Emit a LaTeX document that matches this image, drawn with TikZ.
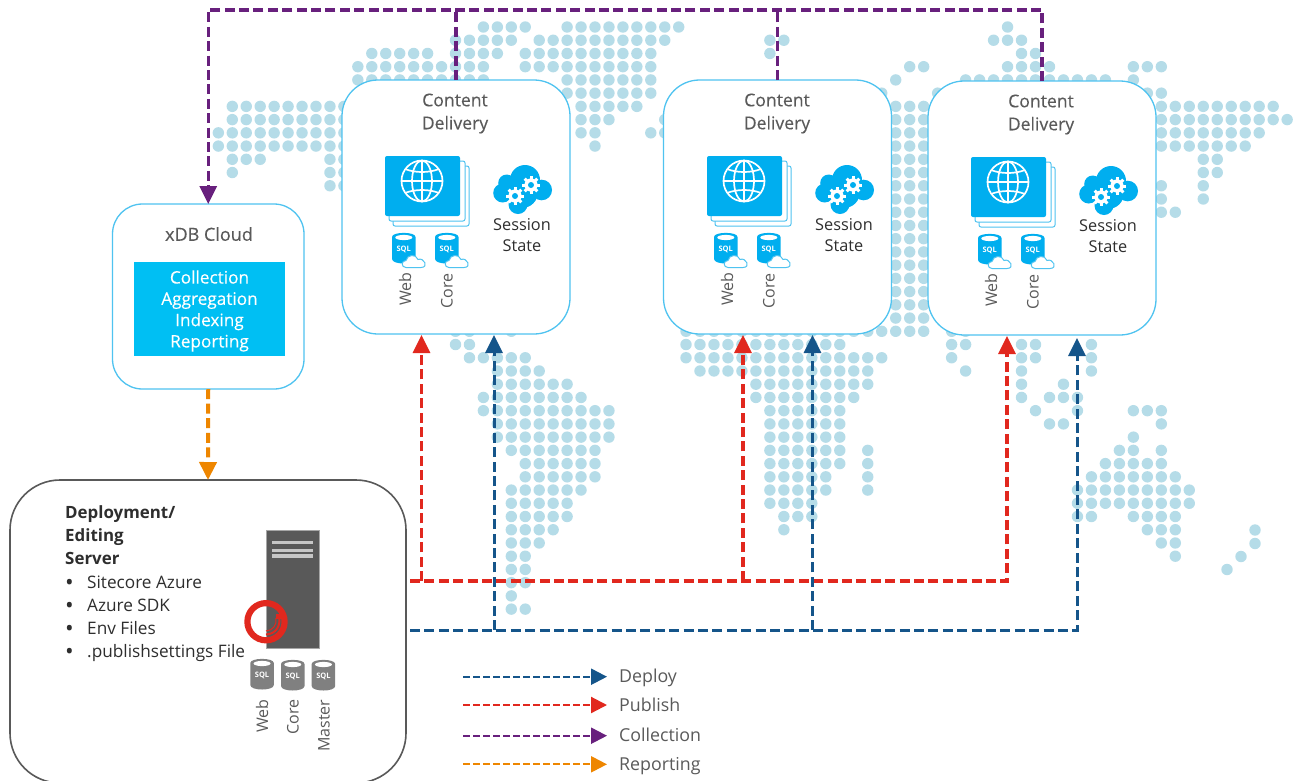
\documentclass[tikz,border=0pt]{standalone}
\usepackage{fontspec}
\setmainfont{Open Sans}
\newfontfamily\semif[FakeBold=0.25]{Open Sans}
\usetikzlibrary{arrows.meta}
\definecolor{dotc}{HTML}{B5DCE8}
\definecolor{boxb}{HTML}{4FC3F0}
\definecolor{cyanb}{HTML}{00AEEF}
\definecolor{cyanc}{HTML}{00BFF3}
\definecolor{dpl}{HTML}{15558A}
\definecolor{pub}{HTML}{E1281E}
\definecolor{col}{HTML}{68207D}
\definecolor{rep}{HTML}{EE8600}
\definecolor{txg}{HTML}{5A5A5A}
\definecolor{txd}{HTML}{2E2E2E}
\definecolor{srv}{HTML}{595959}
\definecolor{sqlg}{HTML}{808080}
\tikzset{
  x=1pt,y=-1pt,
  cdbox/.style={draw=boxb,line width=1.3pt,fill=white,rounded corners=36pt,minimum width=228pt,minimum height=254pt,anchor=north west,inner sep=0pt,outer sep=0pt},
  xdbbox/.style={draw=boxb,line width=1.3pt,fill=white,rounded corners=30pt,minimum width=191.5pt,minimum height=185pt,anchor=north west,inner sep=0pt,outer sep=0pt},
  depbox/.style={draw=srv,line width=1.6pt,fill=white,rounded corners=50pt,minimum width=396pt,minimum height=303pt,anchor=north west,inner sep=0pt,outer sep=0pt},
  link/.style={line width=3.3pt,dash pattern=on 10pt off 4.4pt,-{Triangle[width=17pt,length=18pt]}},
  bar/.style={line width=3.3pt,dash pattern=on 10pt off 4.4pt},
  legline/.style={line width=2.2pt,dash pattern=on 7pt off 3pt,-{Triangle[width=16pt,length=16pt]}},
  title/.style={text=txg,font=\semif\fontsize{17.6}{23}\selectfont,align=center,inner sep=0pt},
  body/.style={text=txd,font=\fontsize{16.3}{20.5}\selectfont,align=center,inner sep=0pt},
  rotlab/.style={text=txg,font=\fontsize{16}{18}\selectfont,rotate=90,inner sep=0pt},
  leglab/.style={text=txg,font=\fontsize{17.8}{20}\selectfont,anchor=base west,inner sep=0pt},
  deplab/.style={text=txd,font=\fontsize{17.2}{20}\selectfont,anchor=base west,inner sep=0pt},
  dephead/.style={text=txd,font=\fontsize{16.9}{23}\selectfont\bfseries,anchor=base west,inner sep=0pt},
  sqllab/.style={text=white,font=\fontsize{7.5}{8}\selectfont\bfseries,inner sep=0pt},
}
\newcommand{\sqlcyl}[4]{%
  \begin{scope}[shift={(#2,#3)}]
    \fill[#4] (0,4) -- (0,26) .. controls (0,32) and (23.5,32) .. (23.5,26) -- (23.5,4) .. controls (23.5,-1.5) and (0,-1.5) .. (0,4) -- cycle;
    \fill[white] (11.75,4.5) ellipse [x radius=8.5,y radius=2.6];
    \node[sqllab] (#1) at (11.75,16) {SQL};
  \end{scope}}
\newcommand{\smcloud}[2]{%
  \begin{scope}[shift={(#1,#2)}]
    \path[fill=white,draw=boxb,line width=1pt] (4,13.5) .. controls (-1,13.5) and (-1,6.5) .. (4,6.5) .. controls (5,0.5) and (14,-0.5) .. (16,5.5) .. controls (22,3) and (27,13.5) .. (19,13.5) -- cycle;
  \end{scope}}
\newcommand{\gearmark}[2]{%
  \fill[white] (#1,#2) circle (6.6);
  \foreach \a in {0,45,...,315}{\draw[white,line width=3pt] ([shift={(\a:5)}]#1,#2) -- ([shift={(\a:9)}]#1,#2);}
  \fill[cyanb] (#1,#2) circle (3);}
\begin{document}
\begin{tikzpicture}
\useasboundingbox (0,0) rectangle (1300,780);
\fill[white] (0,0) rectangle (1300,780);
\clip (0,0) rectangle (1300,780);
% ---- dotted world map
\foreach \r/\a/\b in {0/18/21,0/24/32,1/16/20,1/22/31,2/10/14,2/16/19,2/21/30,3/9/18,3/21/30,4/9/18,4/24/30,5/24/30,6/0/8,6/25/29,7/0/8,7/25/27,7/31/31,8/-1/8,8/25/26,8/30/31,9/-1/8,9/26/26,10/0/2,10/7/8,11/0/0,11/7/8,12/7/8,
23/16/17,23/20/20,24/16/17,25/17/21,26/19/22,27/19/24,28/18/25,29/18/27,30/19/27,31/19/27,32/20/26,33/21/26,34/21/26,35/20/25,36/20/24,37/20/24,38/20/23,39/20/22,40/20/21,41/20/21,42/20/21,43/20/20,44/20/21}{
  \foreach \c in {\a,...,\b}{\fill[dotc] ({232.3+13.95*\c},{27+13.23*\r}) circle (5.7);}
}
\foreach \r/\a/\b in {0/23/23,1/6/7,1/22/24,2/6/6,2/24/25,3/16/17,3/23/26,3/32/34,4/15/15,4/20/30,4/32/32,5/14/14,5/18/18,5/33/34,6/15/17,6/34/42,7/15/17,7/34/43,8/15/17,8/34/41,9/15/17,9/34/40,10/15/17,10/37/38,11/15/17,11/37/38,12/15/17,12/34/34,12/37/37,13/15/17,13/34/34,13/37/37,14/15/17,14/34/35,15/15/17,16/15/17,17/15/17,18/15/17,19/15/17,20/15/17,21/15/17,22/15/17,23/0/17,23/19/20,
24/0/11,24/19/20,24/24/25,24/29/29,25/0/14,25/19/19,25/24/25,25/29/29,26/1/13,26/20/20,26/24/24,26/29/29,27/5/13,27/24/24,27/27/27,28/5/12,28/24/24,28/26/28,29/6/11,29/25/25,29/28/28,29/32/34,30/6/11,30/26/27,30/34/34,31/6/11,31/32/32,32/6/11,32/13/13,32/31/32,32/34/34,33/6/11,33/13/13,33/30/34,34/6/10,34/13/13,34/29/35,35/6/10,35/13/13,35/28/36,36/6/9,36/28/36,37/7/9,37/28/29,37/32/35,38/7/7,38/33/35,39/34/35,40/35/35}{
  \foreach \c in {\a,...,\b}{\fill[dotc] ({686+13.98*\c},{27+13.23*\r}) circle (5.7);}
}
\foreach \p/\q in {1255/530,1255/543.5,1241/556.5,1227/569.5}{\fill[dotc] (\p,\q) circle (5.7);}
% ---- containers
\node[cdbox] (cd1) at (342,80) {};
\node[cdbox] (cd2) at (663.5,80) {};
\node[cdbox] (cd3) at (928,81) {};
\node[xdbbox] (xdb) at (112.5,204) {};
\node[depbox] (dep) at (10,480) {};
% ---- content delivery contents
\foreach \n/\dx/\dy in {1/0/0,2/322/0,3/586/1}{
  \begin{scope}[shift={(\dx,\dy)}]
    \node[title] (ttl\n) at (455,113.5) {Content\\Delivery};
    \draw[boxb,line width=1pt,fill=white,rounded corners=2pt] (393,166) rectangle (469,226);
    \draw[boxb,line width=1pt,fill=white,rounded corners=2pt] (389,161) rectangle (465,221);
    \fill[cyanb,rounded corners=2pt] (385,156) rectangle (460,216);
    \begin{scope}[white,line width=1.7pt]
      \draw (422,181) circle (20.5);
      \draw (422,181) ellipse [x radius=10,y radius=20.5];
      \draw (422,160.5) -- (422,201.5);
      \draw (401.5,181) -- (442.5,181);
      \draw (405,169) .. controls (415,173) and (429,173) .. (439,169);
      \draw (405,193) .. controls (415,189) and (429,189) .. (439,193);
    \end{scope}
    \fill[cyanb] (525,180) circle (15);
    \fill[cyanb] (506.7,183) circle (8.5);
    \fill[cyanb] (502.7,193) circle (9.5);
    \fill[cyanb] (541.7,190) circle (10.3);
    \fill[cyanb] (518,204.5) circle (9.5);
    \fill[cyanb] (522,192) circle (16);
    \gearmark{515}{196}
    \gearmark{531}{185}
    \node[body] (ses\n) at (522,235) {Session\\State};
    \sqlcyl{sqlw\n}{392}{233}{cyanb}
    \sqlcyl{sqlc\n}{435}{233}{cyanb}
    \smcloud{402}{254}
    \smcloud{445}{254}
    \node[rotlab] (lbw\n) at (405,289) {Web};
    \node[rotlab] (lbc\n) at (447,291) {Core};
  \end{scope}
}
% ---- xDB contents
\node[title,font=\semif\fontsize{18}{23}\selectfont] (xttl) at (209,234) {xDB Cloud};
\node[fill=cyanc,minimum width=151pt,minimum height=94pt,inner sep=0pt,outer sep=0pt] (xlist) at (209.5,309) {};
\node[text=white,font=\semif\fontsize{17.2}{21.3}\selectfont,align=center,inner sep=0pt] (xtxt) at (209.5,311) {Collection\\Aggregation\\Indexing\\Reporting};
% ---- deployment contents
\node[dephead] (dh1) at (65,518) {Deployment/};
\node[dephead] (dh2) at (65,541) {Editing};
\node[dephead] (dh3) at (65,564) {Server};
\foreach \y/\nm/\t in {588/a/Sitecore Azure,611/b/Azure SDK,634/c/Env Files,657/d/.publishsettings File}{
  \node[deplab,font=\fontsize{23}{23}\selectfont] (bul\nm) at (65,\y+2) {•};
  \node[deplab] (itm\nm) at (87,\y) {\t};
}
\draw[draw=sqlg!70,line width=0.8pt,fill=srv] (266,530) rectangle (319.5,648);
\fill[gray!45] (271.7,541) rectangle (312.7,544.3);
\fill[gray!45] (271.7,548.7) rectangle (312.7,552);
\fill[gray!45] (271.7,554.3) rectangle (312.7,557.7);
\draw[pub,line width=6.2pt] (266,621.7) circle (18.6);
\draw[pub,line width=2pt] (266,634.5) .. controls (276,634) and (281,626) .. (279,616);
\draw[pub,line width=1pt] (266,631) .. controls (273,630.5) and (277,625) .. (276,618);
\fill[pub] (275.5,613.5) rectangle (281,619);
\sqlcyl{sqld1}{250.3}{659}{sqlg}
\sqlcyl{sqld2}{281}{660}{sqlg}
\sqlcyl{sqld3}{311.7}{660}{sqlg}
\node[rotlab,anchor=east] (lbd1) at (262,699.5) {Web};
\node[rotlab,anchor=east] (lbd2) at (293,699.5) {Core};
\node[rotlab,anchor=east] (lbd3) at (324,699.5) {Master};
% ---- connectors
\coordinate (bus) at (1042,10);
\draw[link,col] (cd3.north) -- (bus) -| (xdb.north);
\draw[bar,col] (cd1.north) -- (cd1.north |- bus);
\draw[bar,col] (cd2.north) -- (cd2.north |- bus);
\draw[link,rep,line width=4pt,dash pattern=on 10pt off 4.6pt] (xdb.south) -- (dep.north);
\coordinate (ps) at (410,581);
\coordinate (ds) at (410,630);
\coordinate (r1) at (421.5,335);
\coordinate (r2) at (743,335);
\coordinate (r3) at (1007,336);
\coordinate (b1) at (494,335);
\coordinate (b2) at (812.5,335);
\coordinate (b3) at (1077,338);
\draw[link,pub] (ps) -| (r3);
\draw[link,pub] (r1 |- ps) -- (r1);
\draw[link,pub] (r2 |- ps) -- (r2);
\draw[link,dpl,line width=3pt] (ds) -| (b3);
\draw[link,dpl,line width=3pt] (b1 |- ds) -- (b1);
\draw[link,dpl,line width=3pt] (b2 |- ds) -- (b2);
% ---- legend
\foreach \n/\y/\by/\c/\t in {1/676.7/682/dpl/Deploy,2/705/711/pub/Publish,3/735.7/741/col/Collection,4/764.3/770/rep/Reporting}{
  \coordinate (ls\n) at (463,\y);
  \coordinate (le\n) at (607,\y);
  \draw[legline,\c] (ls\n) -- (le\n);
  \node[leglab] (lt\n) at (619,\by) {\t};
}
\end{tikzpicture}
\end{document}
